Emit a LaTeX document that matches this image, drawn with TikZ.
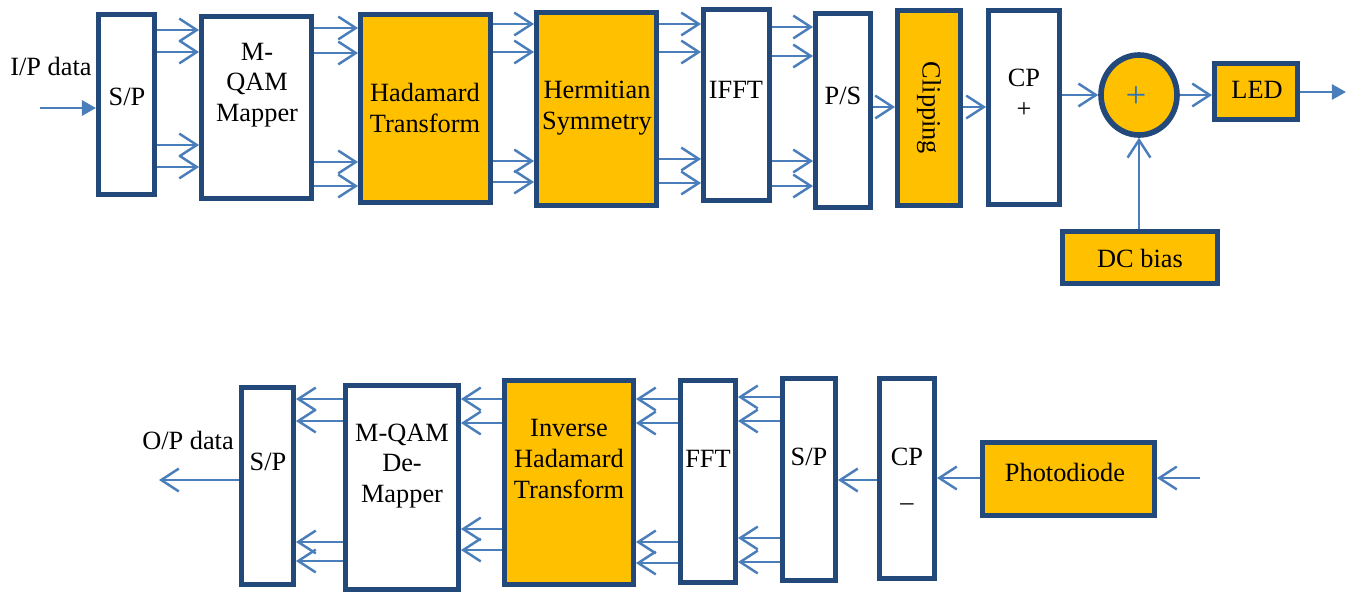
\documentclass[tikz,border=0pt]{standalone}
\usepackage{fontspec}
\setmainfont{Liberation Serif}
\usetikzlibrary{arrows.meta,fit,shapes.geometric}
\definecolor{bdr}{RGB}{35,73,123}
\definecolor{arb}{RGB}{74,126,187}
\definecolor{org}{RGB}{255,192,0}
\definecolor{plb}{RGB}{46,117,182}
\tikzset{
  box/.style={draw=bdr, line width=2.8pt, inner sep=0pt, fill=white},
  obox/.style={box, fill=org},
  txt/.style={font=\fontsize{15}{17.5}\selectfont, align=center, inner sep=0pt},
  arr/.style={draw=arb, line width=1.4pt, -{Straight Barb[length=10pt,width=13pt,line width=1.4pt]}},
  arrf/.style={draw=arb, line width=1.7pt, -{Triangle[length=8pt,width=8.5pt]}},
}
\begin{document}
\begin{tikzpicture}[x=0.02cm,y=-0.02cm]
\useasboundingbox (0,0) rectangle (1352,595);
% ---------- top row ----------
\node[box,  fit={(98.5,14.5)(154.5,194.5)}] (sp1) {};
\node[box,  fit={(201.5,16.5)(311.5,198.5)}] (map) {};
\node[obox, fit={(360.5,14.5)(490.5,202.5)}] (had) {};
\node[obox, fit={(536.5,12.5)(656.5,205.5)}] (her) {};
\node[box,  fit={(703.5,9.5)(769.5,200.5)}] (ifft) {};
\node[box,  fit={(815.5,13.5)(870.5,207.5)}] (ps) {};
\node[obox, fit={(897.5,10.5)(960.5,205.5)}] (clip) {};
\node[box,  fit={(988.5,10.5)(1059.5,204.5)}] (cp) {};
\node[obox, ellipse, line width=3.2pt, minimum width={76*0.02cm}, minimum height={80*0.02cm}] (add) at (1139,95) {};
\node[obox, fit={(1214.5,63.5)(1297.5,119.5)}] (led) {};
\node[obox, fit={(1062.5,231.5)(1217.5,283.5)}] (dc) {};

\node[txt] (ipt) at (51,66) {I/P data};
\node[txt] (sp1t) at (127,97) {S/P};
\node[txt] (mapt) at (257,85) {M-\\QAM\\Mapper};
\node[txt] (hadt) at (425,108) {Hadamard\\Transform};
\node[txt] (hert) at (597,108) {Hermitian\\Symmetry};
\node[txt] (ifftt) at (736,90) {IFFT};
\node[txt] (pst) at (843,96) {P/S};
\node[txt, rotate=-90] (clipt) at (929,108) {Clipping};
\node[txt] (cpt) at (1024,93) {CP\\+};
\node[txt, text=plb, font=\fontsize{21}{21}\selectfont] (addt) at (1136,97) {+};
\node[txt] (ledt) at (1257,90) {LED};
\node[txt] (dct) at (1140,258) {DC bias};

\coordinate (ipin) at (40,108);
\coordinate (tout) at (1346,92);
\draw[arrf] (ipin) -- (sp1.west |- ipin);
\foreach \y in {30,52,145,167} \draw[arr] (sp1.east |- 0,\y) -- (map.west |- 0,\y);
\foreach \y in {28,53,162,186} \draw[arr] (map.east |- 0,\y) -- (had.west |- 0,\y);
\foreach \y in {24,52,161,182} \draw[arr] (had.east |- 0,\y) -- (her.west |- 0,\y);
\foreach \y in {24,52,159,183} \draw[arr] (her.east |- 0,\y) -- (ifft.west |- 0,\y);
\foreach \y in {27,56,161,186} \draw[arr] (ifft.east |- 0,\y) -- (ps.west |- 0,\y);
\draw[arr] (ps.east |- 0,107) -- (clip.west |- 0,107);
\draw[arr] (clip.east |- 0,107) -- (cp.west |- 0,107);
\draw[arr] (cp.east |- add.west) -- (add.west);
\draw[arr] (add.east) -- (led.west |- add.east);
\draw[arrf] (led.east |- tout) -- (tout);
\draw[arr] (dc.north -| add.south) -- (add.south);

% ---------- bottom row ----------
\node[box,  fit={(241.5,387.5)(293.5,584.5)}] (sp2) {};
\node[box,  fit={(345.5,385.5)(458.5,589.5)}] (dem) {};
\node[obox, fit={(504.5,380.5)(633.5,584.5)}] (iht) {};
\node[box,  fit={(680.5,380.5)(735.5,582.5)}] (fft) {};
\node[box,  fit={(782.5,378.5)(835.5,580.5)}] (sp3) {};
\node[box,  fit={(879.5,378.5)(934.5,578.5)}] (cpm) {};
\node[obox, fit={(982.5,442.5)(1154.5,515.5)}] (pd) {};

\node[txt] (opt) at (188,440) {O/P data};
\node[txt] (sp2t) at (268,462) {S/P};
\node[txt] (demt) at (402,466) {M-QAM\\De-\\Mapper};
\node[txt] (ihtt) at (569,459) {Inverse\\Hadamard\\Transform};
\node[txt] (fftt) at (708,459) {FFT};
\node[txt] (sp3t) at (809,457) {S/P};
\node[txt] (cpmt) at (907,479) {CP\\[8pt]--};
\node[txt] (pdt) at (1065,472) {Photodiode};

\coordinate (pin) at (1200,478);
\coordinate (opout) at (159,480);
\draw[arr] (pin) -- (pd.east |- pin);
\draw[arr] (pd.west |- pin) -- (cpm.east |- pin);
\draw[arr] (cpm.west |- 0,480) -- (sp3.east |- 0,480);
\foreach \y in {397,421,538,562} \draw[arr] (sp3.west |- 0,\y) -- (fft.east |- 0,\y);
\foreach \y in {399,423,542,563} \draw[arr] (fft.west |- 0,\y) -- (iht.east |- 0,\y);
\foreach \y in {399,423,529,550} \draw[arr] (iht.west |- 0,\y) -- (dem.east |- 0,\y);
\foreach \y in {399,421,542,561} \draw[arr] (dem.west |- 0,\y) -- (sp2.east |- 0,\y);
\draw[arr] (sp2.west |- opout) -- (opout);
\end{tikzpicture}
\end{document}
